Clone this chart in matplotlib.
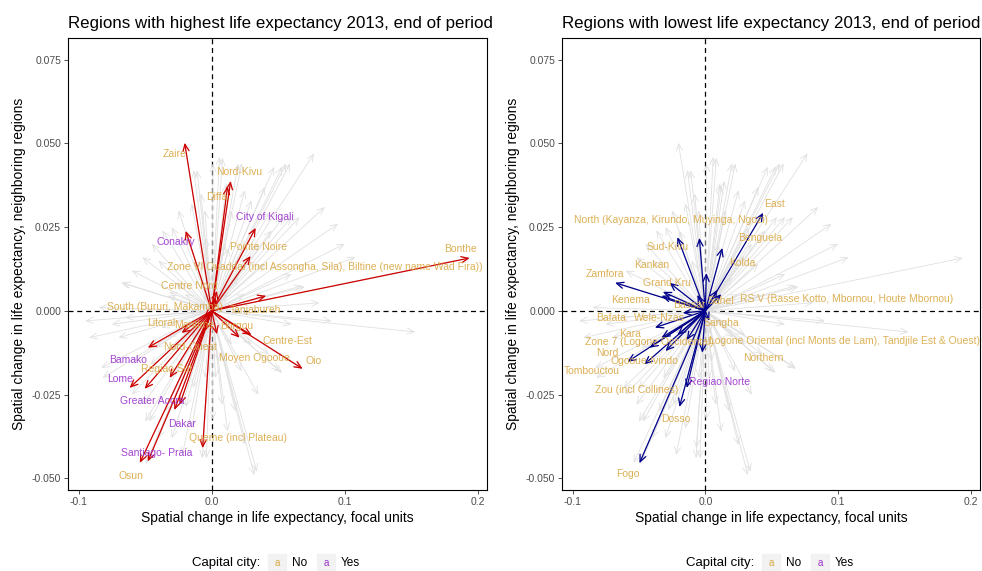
import matplotlib
matplotlib.use('Agg')
import matplotlib.pyplot as plt
from matplotlib.patches import Rectangle

plt.rcParams.update({
    "font.family": ["Liberation Sans", "DejaVu Sans"],
    "axes.linewidth": 0.8,
})

# ------------------------------------------------------------------
# data: arrow end points (origin is 0,0)
# ------------------------------------------------------------------
high_names = ["Zaire", "Nord-Kivu", "Diffa", "City of Kigali", "Conakry", "Pointe Noire",
              "Zone VI Ouaddai (incl Assongha, Sila), Biltine (new name Wad Fira))",
              "Bonthe", "Tanjabureh", "Centre Nord", "South (Bururi, Makamba)", "Litoral",
              "Maritime", "Borgou", "Nord-Ouest", "Centre-Est", "Oio", "Moyen Ogooue",
              "Bamako", "Lome", "Regiao Sul", "Greater Accra", "Dakar",
              "Queme (incl Plateau)", "Santiago- Praia", "Osun"]
high_dx = [-0.0203, 0.0143, 0.0120, 0.0331, -0.0195, 0.0293, 0.0040, 0.1940, 0.0410, 0.0030,
           -0.0060, -0.0226, -0.0050, 0.0040, -0.0480, 0.0300, 0.0684, 0.0210,
           -0.0617, -0.0504, -0.0316, -0.0280, -0.0240, -0.0068, -0.0480, -0.0540]
high_dy = [0.0502, 0.0388, 0.0373, 0.0248, 0.0239, 0.0164, 0.0060, 0.0158, 0.0045, 0.0040,
           -0.0020, -0.0066, -0.0060, -0.0070, -0.0110, -0.0072, -0.0173, -0.0080,
           -0.0230, -0.0233, -0.0200, -0.0296, -0.0280, -0.0410, -0.0450, -0.0454]
high_capital = [0, 0, 0, 1, 1, 0, 0, 0, 0, 0, 0, 0, 0, 0, 0, 0, 0, 0,
                1, 1, 0, 1, 1, 0, 1, 0]

low_names = ["East", "North (Kayanza, Kirundo, Muyinga, Ngozi)", "Benguela", "Sud-Kivu",
             "Kankan", "Kolda", "Zamfora", "Grand Kru", "Kenema", "Bassar", "Sahel",
             "RS V (Basse Kotto, Mbornou, Houte Mbornou)", "Bafata", "Wele-Nzas", "Sangha",
             "Kara", "Zone 7 (Logone Occidental)",
             "Logone Oriental (incl Monts de Lam), Tandjile Est & Ouest)", "Nord",
             "Ogooue-Ivindo", "Northern", "Tombouctou", "Regiao Norte", "Zou (incl Collines)",
             "Dosso", "Fogo"]
low_dx = [0.0436, -0.0045, 0.0128, -0.0210, -0.0320, 0.0008, -0.0680, -0.0270, -0.0330,
          -0.0060, 0.0090, 0.0120, -0.0170, -0.0380, 0.0030, -0.0420, -0.0210, -0.0140,
          -0.0586, -0.0460, -0.0023, -0.0330, -0.0140, -0.0300, -0.0195, -0.0496]
low_dy = [0.0293, 0.0218, 0.0188, 0.0220, 0.0057, 0.0113, 0.0084, 0.0084, 0.0045,
          0.0048, 0.0063, 0.0050, -0.0006, -0.0050, -0.0030, -0.0110, -0.0072, -0.0087,
          -0.0152, -0.0160, -0.0125, -0.0080, -0.0230, -0.0120, -0.0287, -0.0455]
low_capital = [0] * 22 + [1, 0, 0, 0]

# remaining regions (shown only in grey)
other_dx = [0.0083, 0.0226, -0.0110, 0.0010, 0.0770, 0.0590, 0.0560, 0.0530, 0.0470, 0.0400,
            0.0200, 0.0060, 0.0110, 0.0850, 0.0660, 0.0600, 0.0540, 0.0950, 0.1000, 0.1080,
            0.0600, 0.0680, 0.0400, 0.0700, 0.0810, 0.0300, 0.0250, 0.0350, 0.0150, 0.0450,
            -0.0370, -0.0520, -0.0670, -0.0300, -0.0250, -0.0450, -0.0080, -0.0150, -0.0600,
            -0.0135, -0.0050, -0.0400, -0.0850, -0.0650,
            0.1530, 0.0600, 0.0680, 0.0530, 0.0430, 0.0510, 0.0225, 0.0900, 0.0350,
            0.0340, 0.0320, 0.0250, 0.0010, -0.0040, -0.0220, -0.0070, 0.0120, 0.0180, 0.0080,
            -0.0920, -0.0830, -0.0820, -0.0470, -0.0500, -0.0520, -0.0700, -0.0750, -0.0600,
            -0.0400, -0.0350, -0.0950, -0.0300, -0.0150, 0.0030,
            0.0200, 0.0150, -0.0200, -0.0150, 0.0100, 0.0250, -0.0100, 0.0050, -0.0050, 0.0300]
other_dy = [0.0457, 0.0440, 0.0420, 0.0440, 0.0470, 0.0440, 0.0440, 0.0430, 0.0430, 0.0370,
            0.0440, 0.0460, 0.0380, 0.0310, 0.0280, 0.0280, 0.0280, 0.0260, 0.0200, 0.0160,
            0.0110, 0.0075, 0.0140, 0.0072, 0.0024, 0.0330, 0.0360, 0.0200, 0.0300, 0.0240,
            0.0240, 0.0160, 0.0084, 0.0250, 0.0300, 0.0200, 0.0350, 0.0320, 0.0120,
            0.0420, 0.0300, 0.0150, 0.0010, -0.0020,
            -0.0063, -0.0040, -0.0170, -0.0185, -0.0130, -0.0180, -0.0180, -0.0030, -0.0250,
            -0.0480, -0.0490, -0.0400, -0.0325, -0.0440, -0.0430, -0.0440, -0.0360, -0.0300, -0.0280,
            -0.0080, -0.0170, -0.0200, -0.0330, -0.0330, -0.0280, -0.0080, -0.0040, -0.0250,
            -0.0380, -0.0300, -0.0030, -0.0380, -0.0350, -0.0200,
            0.0100, -0.0100, 0.0050, -0.0080, 0.0200, 0.0050, 0.0150, -0.0150, -0.0200, -0.0100]

# label placement (data coords, as the repel layout put them)
high_lab_x = [-0.0278, 0.0210, 0.0038, 0.0400, -0.0270, 0.0353, 0.0850, 0.1870, 0.0330,
              -0.0165, -0.0350, -0.0376, -0.0130, 0.0190, -0.0165, 0.0570, 0.0767, 0.0323,
              -0.0630, -0.0690, -0.0338, -0.0444, -0.0226, 0.0195, -0.0410, -0.0610]
high_lab_y = [0.0469, 0.0415, 0.0340, 0.0280, 0.0206, 0.0191, 0.0131, 0.0185, 0.0003,
              0.0075, 0.0012, -0.0036, -0.0042, -0.0045, -0.0108, -0.0090, -0.0149, -0.0140,
              -0.0146, -0.0203, -0.0173, -0.0269, -0.0338, -0.0380, -0.0424, -0.0493]
low_lab_x = [0.0520, -0.0256, 0.0410, -0.0286, -0.0406, 0.0278, -0.0760, -0.0286, -0.0564,
             -0.0120, 0.0120, 0.1068, -0.0714, -0.0346, 0.0120, -0.0564, -0.0420, 0.1050,
             -0.0737, -0.0459, 0.0436, -0.0857, 0.0105, -0.0520, -0.0226, -0.0586]
low_lab_y = [0.0320, 0.0272, 0.0218, 0.0191, 0.0137, 0.0143, 0.0110, 0.0084, 0.0033,
             0.0018, 0.0030, 0.0036, -0.0020, -0.0020, -0.0036, -0.0068, -0.0092, -0.0090,
             -0.0125, -0.0149, -0.0140, -0.0180, -0.0212, -0.0236, -0.0323, -0.0487]

titles = ["Regions with highest life expectancy 2013, end of period",
          "Regions with lowest life expectancy 2013, end of period"]
x_ticks = [-0.1, 0.0, 0.1, 0.2]
x_ticklabels = ["-0.1", "0.0", "0.1", "0.2"]
y_ticks = [-0.05, -0.025, 0.0, 0.025, 0.05, 0.075]
y_ticklabels = ["-0.050", "-0.025", "0.000", "0.025", "0.050", "0.075"]

COL_NO = "#D9A843"
COL_YES = "#9A32CD"
GREY = "#E0E0E0"


def arrow(ax, x, y, color, lw, z):
    ax.annotate("", xy=(x, y), xytext=(0, 0),
                arrowprops=dict(arrowstyle="->,head_length=0.5,head_width=0.22",
                                color=color, lw=lw, shrinkA=0, shrinkB=0),
                zorder=z)


def panel(ax, dx, dy, cap, lx, ly, names, color, title):
    ax.set_xlim(-0.108, 0.207)
    ax.set_ylim(-0.0535, 0.0815)
    ax.axvline(0, color="black", ls=(0, (4, 3)), lw=0.9, zorder=1)
    ax.axhline(0, color="black", ls=(0, (4, 3)), lw=0.9, zorder=1)
    all_dx = other_dx + high_dx + low_dx
    all_dy = other_dy + high_dy + low_dy
    for x, y in zip(all_dx, all_dy):
        arrow(ax, x, y, GREY, 0.6, 2)
    for x, y in zip(dx, dy):
        arrow(ax, x, y, color, 0.9, 3)
    for n, c, x, y in zip(names, cap, lx, ly):
        ax.text(x, y, n, color=COL_YES if c else COL_NO, fontsize=7.5,
                ha="center", va="center", zorder=4, alpha=0.9)
    ax.set_xticks(x_ticks)
    ax.set_xticklabels(x_ticklabels)
    ax.set_yticks(y_ticks)
    ax.set_yticklabels(y_ticklabels)
    ax.tick_params(length=3, width=0.6, color="#333333", labelsize=7.5,
                   labelcolor="#4D4D4D", pad=2)
    ax.set_xlabel("Spatial change in life expectancy, focal units", fontsize=10, labelpad=3)
    ax.set_ylabel("Spatial change in life expectancy, neighboring regions", fontsize=10,
                  labelpad=4)
    ax.set_title(title, fontsize=12.2, loc="left", x=0.0, pad=7)


def legend(fig, cx):
    y = 1 - 563 / 571
    fig.text(cx - 52 / 982, y, "Capital city:", fontsize=9.5, ha="center", va="center")
    for off, col, lab in [(0, COL_NO, "No"), (49, COL_YES, "Yes")]:
        bx = (cx + (off - 10) / 982)
        fig.patches.append(Rectangle((bx, y - 9 / 571), 18 / 982, 18 / 571,
                                     transform=fig.transFigure, color="#F2F2F2"))
        fig.text(bx + 9 / 982, y, "a", color=col, fontsize=7, ha="center", va="center")
        fig.text(bx + 24 / 982, y, lab, fontsize=8.5, ha="left", va="center")


fig = plt.figure(figsize=(9.82, 5.71), dpi=100)
ax1 = fig.add_axes([68 / 982, 81 / 571, 419 / 982, 452 / 571])
ax2 = fig.add_axes([562 / 982, 81 / 571, 418 / 982, 452 / 571])

panel(ax1, high_dx, high_dy, high_capital, high_lab_x, high_lab_y, high_names,
      "#CD0000", titles[0])
panel(ax2, low_dx, low_dy, low_capital, low_lab_x, low_lab_y, low_names,
      "#00008B", titles[1])

legend(fig, 278 / 982)
legend(fig, 772 / 982)

fig.savefig("out.png", dpi=100)
